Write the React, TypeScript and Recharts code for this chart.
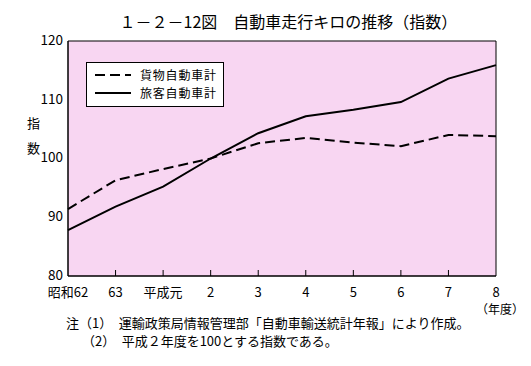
import { LineChart, Line, XAxis, YAxis, ReferenceArea, Legend } from 'recharts';

const years = ['昭和62', '63', '平成元', '2', '3', '4', '5', '6', '7', '8'];
const freight = [91.4, 96.3, 98.2, 100, 102.6, 103.5, 102.7, 102.1, 104.0, 103.8];
const passenger = [87.8, 91.8, 95.2, 100, 104.3, 107.2, 108.3, 109.6, 113.6, 115.9];
const yTicks = [80, 90, 100, 110, 120];

const series = [
  { key: 'freight', name: '貨物自動車計', dash: '10 5' },
  { key: 'passenger', name: '旅客自動車計', dash: undefined },
];

const data = years.map((y, i) => ({ year: y, freight: freight[i], passenger: passenger[i] }));

const FONT = '"Noto Sans CJK JP", "Noto Sans", sans-serif';

const XTick = (props: any) => {
  const { x, y, payload, index } = props;
  const showLine = index > 0 && index < years.length - 1;
  return (
    <g>
      {showLine && <line x1={x} y1={y} x2={x} y2={y - 6} stroke="#000" strokeWidth={1} />}
      <text x={x} y={y + 21} textAnchor="middle" fontSize={13} fill="#000" fontFamily={FONT}>
        {payload.value}
      </text>
    </g>
  );
};

const LegendBox = () => (
  <div
    style={{
      border: '1px solid #000',
      background: '#fff',
      width: 138,
      height: 45,
      boxSizing: 'border-box',
      padding: '3px 0 0 8px',
      fontFamily: FONT,
      fontSize: 12,
      lineHeight: '18px',
      letterSpacing: 0.8,
    }}
  >
    {series.map((s) => (
      <div key={s.key} style={{ display: 'flex', alignItems: 'center', height: 18 }}>
        <svg width={38} height={10} style={{ marginRight: 7 }}>
          <line x1={0} y1={5} x2={36} y2={5} stroke="#000" strokeWidth={2} strokeDasharray={s.dash} />
        </svg>
        <span>{s.name}</span>
      </div>
    ))}
  </div>
);

export default function App() {
  return (
    <div
      style={{
        position: 'absolute',
        left: 0,
        top: 0,
        width: 531,
        height: 366,
        background: '#fff',
        fontFamily: FONT,
        color: '#000',
      }}
    >
      <div style={{ position: 'absolute', left: 0, width: 531, top: 9, textAlign: 'center', fontSize: 16, paddingLeft: 46, boxSizing: 'border-box' }}>
        １－２－12図　自動車走行キロの推移（指数）
      </div>
      <LineChart
        width={531}
        height={366}
        data={data}
        margin={{ top: 41, right: 35, bottom: 60, left: 28 }}
        style={{ position: 'absolute', left: 0, top: 0 }}
      >
        <ReferenceArea x1="昭和62" x2="8" y1={80} y2={120} fill="#f8d6f2" fillOpacity={1} stroke="#000" strokeWidth={1} />
        <XAxis
          dataKey="year"
          height={30}
          interval={0}
          tickLine={false}
          tickSize={0}
          tickMargin={0}
          axisLine={{ stroke: '#000' }}
          tick={<XTick />}
        />
        <YAxis
          width={40}
          domain={[80, 120]}
          ticks={yTicks}
          tickLine={false}
          tickSize={0}
          tickMargin={5}
          axisLine={{ stroke: '#000' }}
          tick={{ fill: '#000', fontSize: 13.5, fontFamily: FONT, dy: -1 }}
        />
        <Legend
          layout="horizontal"
          verticalAlign="middle"
          align="center"
          content={<LegendBox />}
          wrapperStyle={{ left: 86, top: 62, width: 138, height: 45 }}
        />
        {series.map((s) => (
          <Line
            key={s.key}
            dataKey={s.key}
            name={s.name}
            type="linear"
            stroke="#000"
            strokeWidth={2}
            strokeDasharray={s.dash}
            dot={false}
            isAnimationActive={false}
          />
        ))}
      </LineChart>
      <div style={{ position: 'absolute', left: 27, top: 110, fontSize: 13, lineHeight: '25px' }}>
        指<br />数
      </div>
      <div style={{ position: 'absolute', left: 476, top: 300, fontSize: 12 }}>（年度）</div>
      <div style={{ position: 'absolute', left: 66, top: 314, fontSize: 13, lineHeight: '18px', whiteSpace: 'pre' }}>
        {'注（1）　運輸政策局情報管理部「自動車輸送統計年報」により作成。'}
        <br />
        {'　 （2）　平成２年度を100とする指数である。'}
      </div>
    </div>
  );
}
